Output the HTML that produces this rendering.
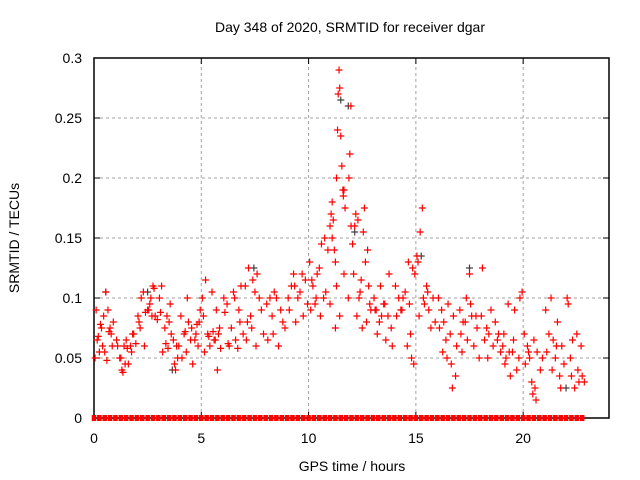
<!DOCTYPE html>
<html><head><meta charset="utf-8"><style>
body{margin:0;background:#fff;}
svg{display:block;font-family:"Liberation Sans",sans-serif;}
</style></head><body>
<svg id="chart" width="640" height="480" xmlns="http://www.w3.org/2000/svg">
<rect width="640" height="480" fill="#fff"/>
<text x="350" y="32" font-size="14" text-anchor="middle">Day 348 of 2020, SRMTID for receiver dgar</text>
<text x="352" y="471" font-size="14" text-anchor="middle">GPS time / hours</text>
<text transform="translate(19,238) rotate(-90)" font-size="14" text-anchor="middle">SRMTID / TECUs</text>
<g id="grid"></g>
<g id="ticks"></g>
<rect x="94" y="58" width="515" height="360" fill="none" stroke="#000" stroke-width="1.5"/>
<g id="marks"></g>
</svg>
<script>
const xTicks=[0,5,10,15,20];
const yTicks=[0,0.05,0.1,0.15,0.2,0.25,0.3];
const yTickLabels=["0","0.05","0.1","0.15","0.2","0.25","0.3"];
const times=[
0.05,0.4,0.15,0.6,0.25,0.8,0.35,0.1,0.45,0.7,0.2,0.55,0.9,0.3,0.65,0.85,0.5,0.75,
1.05,1.4,1.2,1.6,1.3,1.35,1.75,1.1,1.5,1.85,1.25,1.45,1.55,1.95,1.7,1.8,
2.05,2.5,2.2,2.75,2.3,2.6,2.1,2.85,2.4,2.95,2.35,2.15,2.65,2.8,2.55,2.7,
3.05,3.15,3.5,3.3,3.7,3.85,3.2,3.9,3.4,3.55,3.1,3.6,3.95,3.75,3.8,3.35,3.45,
4.4,4.05,4.55,4.2,4.7,4.85,4.3,4.1,4.6,4.25,4.8,4.9,4.35,4.95,4.5,4.75,
5.05,5.5,5.2,5.7,5.1,5.85,5.3,5.6,5.4,5.15,5.8,5.35,5.55,5.65,5.9,5.75,
6.05,6.5,6.85,6.2,6.75,6.1,6.3,6.6,6.95,6.4,6.25,6.7,6.8,6.55,
7.05,7.4,7.6,7.2,7.5,7.7,7.3,7.9,7.1,7.55,7.35,7.15,7.8,
8.5,8.05,8.7,8.3,8.9,8.1,8.6,8.35,8.8,8.2,8.4,
9.05,9.6,9.2,9.85,9.3,9.5,9.1,9.75,9.4,9.95,9.35,9.7,
10.05,10.5,10.2,10.7,10.3,10.1,10.55,10.35,10.8,10.15,10.9,10.6,10.75,10.4,
11.0,11.05,11.1,11.15,11.2,11.25,11.3,11.35,11.38,11.42,11.45,11.5,11.55,11.6,11.62,11.65,11.7,11.1,11.65,11.3,11.85,11.0,11.45,11.25,11.97,11.92,11.88,11.98,
12.05,12.55,12.15,12.2,12.6,12.3,12.1,12.45,12.8,12.35,12.9,12.25,12.7,12.5,12.85,12.4,12.65,12.75,
13.05,13.5,13.15,13.7,13.3,13.85,13.2,13.6,13.9,13.4,13.1,13.55,13.35,13.75,
14.05,14.5,14.2,14.7,14.35,14.1,14.75,14.6,14.8,14.9,14.65,14.85,14.95,14.3,14.4,
15.2,15.3,15.05,15.1,15.5,15.8,15.4,15.6,15.15,15.9,15.7,15.35,15.55,
16.05,16.5,16.2,16.75,16.3,16.1,16.6,16.4,16.9,16.25,16.45,16.7,16.85,16.65,
17.5,17.05,17.6,17.2,17.85,17.1,17.4,17.7,17.15,17.95,17.3,17.55,17.35,17.8,
18.1,18.5,18.05,18.7,18.3,18.85,18.2,18.6,18.95,18.35,18.4,18.8,
19.85,19.95,19.3,19.6,19.05,19.5,19.8,19.15,19.7,19.4,19.2,19.35,19.55,19.1,
20.05,20.5,20.2,20.65,20.3,20.1,20.8,20.4,20.55,20.45,20.6,20.9,20.25,
21.3,21.05,21.6,21.2,21.4,21.8,21.1,21.5,21.9,21.35,21.7,21.75,21.55,
22.05,22.1,22.5,22.3,22.7,22.2,22.55,22.75,22.85,22.4,22.6,22.25
];
const values=[
0.05,0.06,0.065,0.048,0.055,0.07,0.075,0.09,0.085,0.072,0.068,0.105,0.08,0.078,0.09,0.06,0.055,0.075,
0.065,0.06,0.05,0.045,0.04,0.038,0.055,0.06,0.065,0.07,0.05,0.045,0.058,0.062,0.06,0.07,
0.085,0.09,0.1,0.11,0.105,0.095,0.08,0.085,0.088,0.082,0.06,0.075,0.1,0.108,0.09,0.085,
0.1,0.11,0.08,0.075,0.065,0.06,0.055,0.05,0.085,0.095,0.088,0.07,0.06,0.045,0.04,0.062,0.058,
0.08,0.085,0.075,0.07,0.065,0.06,0.055,0.05,0.045,0.072,0.078,0.08,0.1,0.09,0.065,0.07,
0.1,0.105,0.115,0.09,0.085,0.075,0.07,0.065,0.06,0.055,0.07,0.068,0.072,0.065,0.058,0.04,
0.1,0.105,0.11,0.095,0.09,0.088,0.06,0.065,0.07,0.075,0.062,0.058,0.08,0.1,
0.11,0.115,0.12,0.125,0.105,0.1,0.085,0.07,0.065,0.06,0.075,0.08,0.09,
0.1,0.095,0.09,0.085,0.075,0.065,0.06,0.07,0.08,0.1,0.105,
0.1,0.105,0.11,0.115,0.12,0.1,0.09,0.085,0.08,0.095,0.11,0.12,
0.13,0.125,0.11,0.1,0.095,0.09,0.085,0.1,0.105,0.115,0.14,0.145,0.15,0.12,
0.16,0.17,0.18,0.165,0.14,0.13,0.2,0.24,0.27,0.29,0.275,0.235,0.21,0.19,0.185,0.19,0.175,0.15,0.12,0.11,0.1,0.095,0.085,0.075,0.26,0.22,0.2,0.16,
0.145,0.155,0.16,0.17,0.175,0.165,0.12,0.115,0.11,0.1,0.09,0.085,0.08,0.075,0.095,0.105,0.13,0.14,
0.1,0.095,0.09,0.085,0.08,0.075,0.07,0.065,0.06,0.085,0.09,0.095,0.11,0.12,
0.11,0.105,0.1,0.095,0.09,0.085,0.07,0.06,0.05,0.045,0.13,0.125,0.12,0.09,0.1,
0.155,0.175,0.135,0.13,0.11,0.1,0.095,0.09,0.085,0.08,0.075,0.1,0.105,
0.1,0.095,0.09,0.085,0.08,0.075,0.07,0.065,0.06,0.055,0.05,0.025,0.035,0.045,
0.12,0.09,0.085,0.08,0.075,0.07,0.065,0.06,0.055,0.05,0.08,0.095,0.1,0.085,
0.125,0.09,0.085,0.08,0.075,0.07,0.065,0.06,0.055,0.05,0.07,0.065,
0.1,0.105,0.095,0.09,0.06,0.055,0.05,0.045,0.04,0.035,0.05,0.055,0.065,0.07,
0.07,0.065,0.06,0.055,0.05,0.045,0.04,0.03,0.025,0.02,0.015,0.05,0.055,
0.1,0.09,0.08,0.07,0.065,0.06,0.055,0.05,0.045,0.04,0.035,0.025,0.06,
0.1,0.095,0.07,0.065,0.06,0.05,0.04,0.035,0.03,0.025,0.03,0.035
];
const greyTimes=[0.55,2.5,3.65,7.45,11.5,11.85,12.15,15.25,17.5,22.0];
const greyValues=[0.105,0.105,0.04,0.125,0.265,0.26,0.155,0.135,0.125,0.025];

const NS="http://www.w3.org/2000/svg";
const X0=94,X1=609,Y0=418,Y1=58,XMAX=24,YMAX=0.3;
function xs(t){return X0+(t/XMAX)*(X1-X0);}
function ys(v){return Y0-(v/YMAX)*(Y0-Y1);}
const grid=document.getElementById('grid'),ticks=document.getElementById('ticks'),marks=document.getElementById('marks');
function mk(tag,attrs,parent){const e=document.createElementNS(NS,tag);for(const k in attrs)e.setAttribute(k,attrs[k]);parent.appendChild(e);return e;}
xTicks.forEach(t=>{
  const x=xs(t);
  if(t>0){const g=mk('line',{x1:x,x2:x,y1:Y0,y2:Y1,stroke:'#a0a0a0','stroke-dasharray':'3,3'},grid);
  
  }
  const l=mk('line',{x1:x,x2:x,y1:Y0,y2:Y0-6,stroke:'#000'},ticks);
  
  
  const l2=mk('line',{x1:x,x2:x,y1:Y1,y2:Y1+6,stroke:'#000'},ticks);
  
  
  const tx=mk('text',{x:x,y:443,'font-size':14,'text-anchor':'middle'},ticks);tx.textContent=String(t);
  
  
});
yTicks.forEach((v,i)=>{
  const y=ys(v);
  if(v>0&&v<YMAX){const g=mk('line',{x1:X0,x2:X1,y1:y,y2:y,stroke:'#a0a0a0','stroke-dasharray':'3,3'},grid);
  
  }
  const l=mk('line',{x1:X0,x2:X0+6,y1:y,y2:y,stroke:'#000'},ticks);
  
  
  const l2=mk('line',{x1:X1,x2:X1-6,y1:y,y2:y,stroke:'#000'},ticks);
  
  
  const tx=mk('text',{x:82,y:y+5,'font-size':14,'text-anchor':'end'},ticks);tx.textContent=yTickLabels[i];
  
  
});
function plus(t,v,color,name){
  const x=xs(t),y=ys(v);
  const p=mk('path',{d:`M${x-3.5},${y}H${x+3.5}M${x},${y-3.5}V${y+3.5}`,stroke:color,'stroke-width':1.2,fill:'none'},marks);
  
  
}
greyTimes.forEach((t,i)=>plus(t,greyValues[i],'#404040','grey-point'));
times.forEach((t,i)=>plus(t,values[i],'#ff0000','srmtid-point'));
const zeroSlots=[...new Set(times.map(t=>Math.round(t*4)/4))];
zeroSlots.forEach(t=>{
  const x=xs(t),y=ys(0);
  const r=mk('rect',{x:x-2.3,y:y-3,width:4.6,height:6,fill:'#ff0000'},marks);
  
  
});
</script>
</body></html>
